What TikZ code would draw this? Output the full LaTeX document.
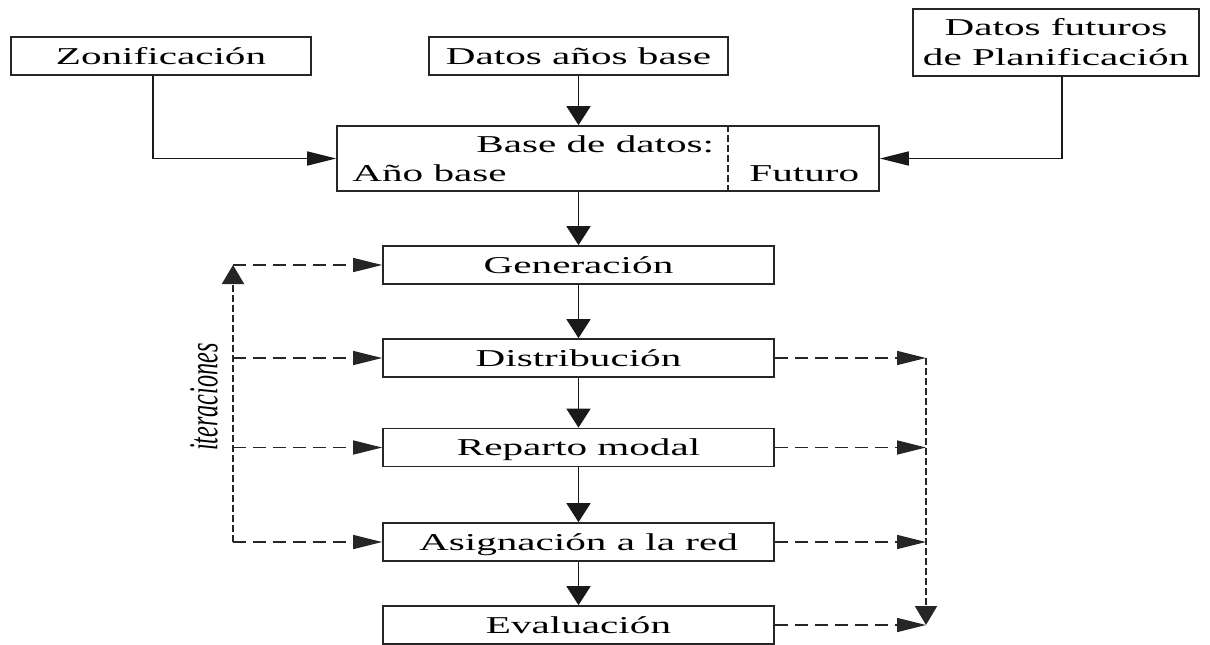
\documentclass[tikz,border=0pt]{standalone}
\usepackage{fontspec}
\setmainfont{Liberation Serif}[FakeStretch=1.7]
\newfontfamily\plainserif{Liberation Serif}
\usetikzlibrary{arrows.meta}
\tikzset{
  box/.style={draw=black!85, line width=0.85pt, inner sep=0pt, minimum height=19pt,
    text height=8.3pt, text depth=0pt},
  mainbox/.style={box, minimum width=195.5pt},
  solid line/.style={draw=black!90, line width=0.85pt},
  harr/.style={solid line, -{Triangle[length=14.5pt,width=7pt]}},
  varr/.style={solid line, -{Triangle[length=9.5pt,width=12pt]}},
  dh/.style={draw=black!85, line width=0.7pt, dash pattern=on 6.5pt off 3.5pt, -{Triangle[length=14.5pt,width=7pt]}},
  dvv/.style={draw=black!85, line width=1pt, dash pattern=on 3.3pt off 1.7pt},
  intext/.style={anchor=base west, inner sep=0pt}
}
\begin{document}
\begin{tikzpicture}[x=0.5pt,y=-0.5pt, font=\fontsize{12.1pt}{15pt}\selectfont]
\useasboundingbox (0,0) rectangle (1210,644);

% top boxes
\node[box, minimum width=150pt] (zon) at (161,56) {Zonificación};
\node[box, minimum width=149.5pt] (dab) at (578.5,56) {Datos años base};
\node[draw=black!85, line width=0.85pt, inner sep=0pt, minimum width=143pt, minimum height=33.5pt, align=center]
  (fut) at (1056,42.5) {Datos futuros\\de Planificación};

% data base box
\node[draw=black!85, line width=0.85pt, inner sep=0pt, minimum width=271pt, minimum height=32.5pt] (base) at (608,158.5) {};
\coordinate (dvx) at (728,0);
\draw[dvv, line width=0.7pt] (base.north -| dvx) -- (base.south -| dvx);
\node[intext] (bdt) at (476,152) {Base de datos:};
\node[intext] (ab) at (352,181) {Año base};
\node[intext] (fu) at (749,181) {Futuro};

% main chain
\node[mainbox] (gen) at (578.5,265) {Generación};
\node[mainbox] (dist) at (578.5,358) {Distribución};
\node[mainbox] (rep) at (578.5,447.5) {Reparto modal};
\node[mainbox] (asig) at (578.5,542) {Asignación a la red};
\node[mainbox] (eval) at (578.5,625) {Evaluación};

% solid connectors
\draw[harr] ([xshift=-4pt]zon.south) |- (base.west);
\draw[harr] ([xshift=3pt]fut.south) |- (base.east);
\draw[varr] (dab.south) -- (dab.south |- base.north);
\draw[varr] (base.south -| gen.north) -- (gen.north);
\draw[varr] (gen.south) -- (dist.north);
\draw[varr] (dist.south) -- (rep.north);
\draw[varr] (rep.south) -- (asig.north);
\draw[varr] (asig.south) -- (eval.north);

% iteration loop (left) and output collection (right)
\coordinate (lx) at (233,0);
\coordinate (rx) at (926,0);
\draw[dvv, -{Triangle[length=9.5pt,width=11pt]}] (asig.west -| lx) -- (gen.west -| lx);
\foreach \n in {gen,dist,rep,asig} \draw[dh] (\n.west -| lx) -- (\n.west);
\foreach \n in {dist,rep,asig,eval} \draw[dh] (\n.east) -- (\n.east -| rx);
\draw[dvv, -{Triangle[length=9.5pt,width=11pt]}] (dist.east -| rx) -- (eval.east -| rx);

\node[inner sep=0pt] (it) at (204,397) {\scalebox{1.7}[1]{\rotatebox{90}{\plainserif\itshape\fontsize{12.1pt}{15pt}\selectfont iteraciones}}};
\end{tikzpicture}
\end{document}
